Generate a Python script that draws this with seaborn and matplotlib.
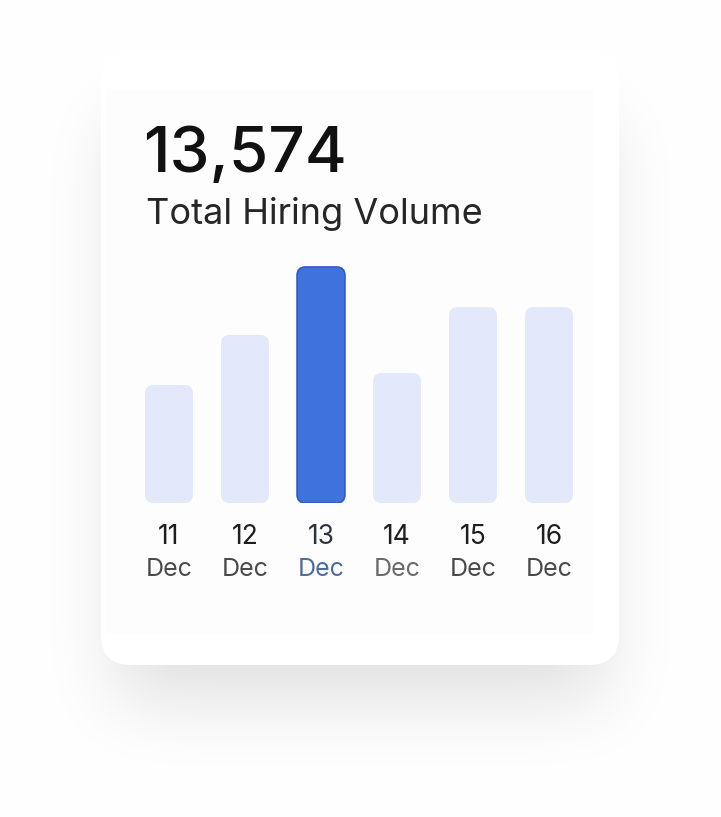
import numpy as np
import pandas as pd
import matplotlib
matplotlib.use("Agg")
import matplotlib.pyplot as plt
import seaborn as sns
from matplotlib.patches import FancyBboxPatch
from matplotlib.transforms import blended_transform_factory

days = ["11", "12", "13", "14", "15", "16"]
month = ["Dec"] * 6
hires = [1535, 2185, 3070, 1690, 2547, 2547]
total_label = "13,574"
subtitle = "Total Hiring Volume"
highlight = "13"

light_blue = "#e3e8fa"
strong_blue = "#3f72dc"

sns.set_theme(style="white")
plt.rcParams['font.family'] = ['Inter', 'DejaVu Sans']

W, H = 721, 817
fig = plt.figure(figsize=(W / 100, H / 100), dpi=100)
fig.patch.set_facecolor("white")

# background layer in pixel coords (card + soft shadow)
bg = fig.add_axes([0, 0, 1, 1], zorder=0)
bg.set_xlim(0, W)
bg.set_ylim(H, 0)
bg.axis("off")

# shadow: blurred rectangle under the card
pad = 200
yy, xx = np.mgrid[-pad:H + pad, -pad:W + pad]
mask = ((xx > 115) & (xx < 605) & (yy > 120) & (yy < 700)).astype(float)

def box_blur(a, r):
    c = np.cumsum(np.pad(a, ((r + 1, r), (0, 0)), mode="edge"), axis=0)
    a = (c[2 * r + 1:, :] - c[:-2 * r - 1, :]) / (2 * r + 1)
    c = np.cumsum(np.pad(a, ((0, 0), (r + 1, r)), mode="edge"), axis=1)
    return (c[:, 2 * r + 1:] - c[:, :-2 * r - 1]) / (2 * r + 1)

shadow = mask
for _ in range(4):
    shadow = box_blur(shadow, 30)
shadow = shadow[pad:pad + H, pad:pad + W]
shade = 1 - 0.12 * shadow
img = np.dstack([shade, shade, shade])
bg.imshow(img, extent=(0, W, H, 0), aspect="auto", zorder=0, interpolation="bilinear")

card = FancyBboxPatch((101, 51), 518, 614, boxstyle="round,pad=0,rounding_size=30",
                      facecolor="white", edgecolor="none", zorder=1)
bg.add_patch(card)
bg.add_patch(FancyBboxPatch((106, 89), 488, 546, boxstyle="square,pad=0",
                            facecolor="#fdfdfd", edgecolor="none", zorder=1.5))

bg.text(143, 172, total_label, fontsize=46, color="#111111", va="baseline", ha="left",
        fontweight="medium", zorder=3)
bg.text(146, 224, subtitle, fontsize=26, color="#262626", va="baseline", ha="left", zorder=3)

# bar chart
bar_bottom, bar_top_px = 503, 250
x0_px, unit_px = 169, 76
xlim = (-0.8, 5.8)
left = x0_px + xlim[0] * unit_px
right = x0_px + xlim[1] * unit_px
ax = fig.add_axes([left / W, (H - bar_bottom) / H, (right - left) / W, (bar_bottom - bar_top_px) / H], zorder=2)
ax.patch.set_alpha(0)

df = pd.DataFrame({"day": days, "hires": hires})
palette = {d: (strong_blue if d == highlight else light_blue) for d in days}
sns.barplot(data=df, x="day", y="hires", hue="day", palette=palette, legend=False,
            width=0.63, ax=ax, saturation=1)

ymax = 3070 * (bar_bottom - bar_top_px) / (bar_bottom - 267)
ax.set_xlim(*xlim)
ax.set_ylim(0, ymax)
px_x = (xlim[1] - xlim[0]) / (right - left)
px_y = ymax / (bar_bottom - bar_top_px)
aspect = px_y / px_x

for p, d in zip(list(ax.patches), days):
    x, y = p.get_x(), p.get_y()
    w, h = p.get_width(), p.get_height()
    fc = p.get_facecolor()
    p.remove()
    ec = "#2f5cc0" if d == highlight else "none"
    rb = FancyBboxPatch((x, y), w, h, boxstyle="round,pad=0,rounding_size=0.11",
                        mutation_aspect=aspect, facecolor=fc, edgecolor=ec, linewidth=1.2)
    ax.add_patch(rb)

ax.set_xticks([])
ax.set_yticks([])
ax.set_xlabel("")
ax.set_ylabel("")
sns.despine(ax=ax, left=True, bottom=True)

trans = blended_transform_factory(ax.transData, ax.transAxes)
h_ax = bar_bottom - bar_top_px
for i, (d, m) in enumerate(zip(days, month)):
    num_c = "#1e1e1e" if d != highlight else "#2c3340"
    mon_c = "#4f6c9c" if d == highlight else ("#6a6a6a" if d == "14" else "#4a4a4a")
    ax.text(i, -(537 - bar_bottom) / h_ax, d, transform=trans, ha="center", va="center",
            fontsize=19, color=num_c)
    ax.text(i, -(570 - bar_bottom) / h_ax, m, transform=trans, ha="center", va="center",
            fontsize=18, color=mon_c)

fig.savefig("out.png", dpi=100, facecolor="white")
